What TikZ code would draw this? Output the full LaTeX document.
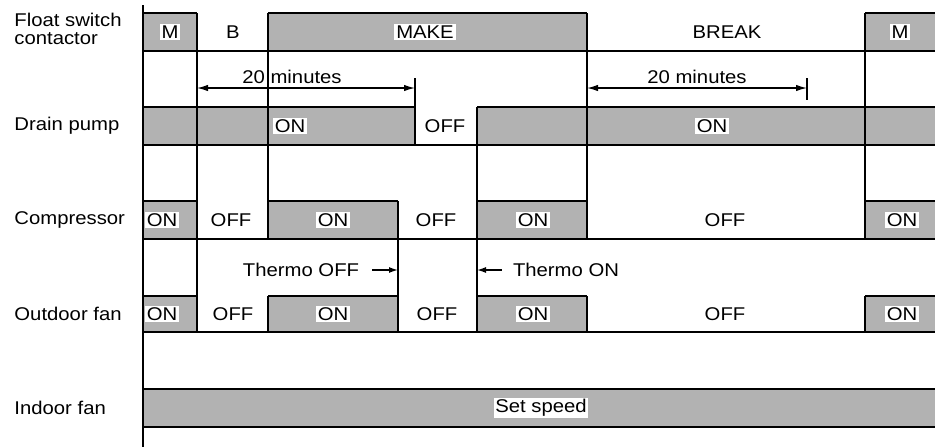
\documentclass[tikz,border=0pt]{standalone}
\usepackage{fontspec}
\setmainfont{Liberation Sans}[FakeStretch=1.1]
\usepackage{tikz}
\usetikzlibrary{arrows.meta}
\begin{document}
\begin{tikzpicture}[x=0.02cm, y=-0.02cm, line width=0.8pt,
  sg/.style={font=\fontsize{10.5}{10.5}\selectfont, inner sep=1pt},
  lb/.style={sg, fill=white}, rl/.style={sg, anchor=west, align=left},
  on/.style={fill=black!30},
  arr/.style={-{Latex[length=1.8mm, width=1.2mm]}},
  darr/.style={{Latex[length=2.2mm, width=1.3mm]}-{Latex[length=2.2mm, width=1.3mm]}}]
\useasboundingbox (0,0) rectangle (935,447);
% row names
\node[rl] (fsw) at (12,29) {Float switch\\contactor};
\node[rl] (dp) at (12,126) {Drain pump};
\node[rl] (cp) at (12,220) {Compressor};
\node[rl] (of) at (12,314) {Outdoor fan};
\node[rl] (inf) at (12,408) {Indoor fan};
% shaded ON / MAKE periods
\fill[on] (143,13) rectangle (197,51) (268,13) rectangle (587,51) (865,13) rectangle (935,51);
\fill[on] (143,107) rectangle (415,145) (477,107) rectangle (935,145);
\fill[on] (143,201) rectangle (197,239) (268,201) rectangle (398,239) (477,201) rectangle (587,239) (865,201) rectangle (935,239);
\fill[on] (143,296) rectangle (197,332) (268,296) rectangle (398,332) (477,296) rectangle (587,332) (865,296) rectangle (935,332);
\fill[on] (143,389) rectangle (935,427);
% levels
\draw (143,13) -- (197,13) (268,13) -- (587,13) (865,13) -- (935,13) (143,51) -- (935,51);
\draw (143,107) -- (415,107) (477,107) -- (935,107) (143,145) -- (935,145);
\draw (143,201) -- (197,201) (268,201) -- (398,201) (477,201) -- (587,201) (865,201) -- (935,201) (143,239) -- (935,239);
\draw (143,296) -- (197,296) (268,296) -- (398,296) (477,296) -- (587,296) (865,296) -- (935,296) (143,332) -- (935,332);
\draw (143,389) -- (935,389) (143,427) -- (935,427);
% edges
\draw (143,5) -- (143,447);
\draw (197,13) -- (197,332);
\draw (268,13) -- (268,239) (268,296) -- (268,332);
\draw (398,201) -- (398,332);
\draw (415,78) -- (415,145);
\draw (477,107) -- (477,332);
\draw (587,13) -- (587,239) (587,296) -- (587,332);
\draw (807,78) -- (807,100);
\draw (865,13) -- (865,239) (865,296) -- (865,332);
% states
\node[lb] (fm1) at (170,32) {M};
\node[sg] (fb) at (233,32) {B};
\node[lb] (fmk) at (425,32) {MAKE};
\node[sg] (fbk) at (727,32) {BREAK};
\node[lb] (fm2) at (900,32) {M};
\node[lb] (don1) at (290,126) {ON};
\node[sg] (doff) at (445,126) {OFF};
\node[lb] (don2) at (712,126) {ON};
\node[lb] (c1) at (162,220) {ON};
\node[sg] (c2) at (231,220) {OFF};
\node[lb] (c3) at (333,220) {ON};
\node[sg] (c4) at (436,220) {OFF};
\node[lb] (c5) at (533,220) {ON};
\node[sg] (c6) at (725,220) {OFF};
\node[lb] (c7) at (902,220) {ON};
\node[lb] (o1) at (162,314) {ON};
\node[sg] (o2) at (233,314) {OFF};
\node[lb] (o3) at (333,314) {ON};
\node[sg] (o4) at (437,314) {OFF};
\node[lb] (o5) at (533,314) {ON};
\node[sg] (o6) at (725,314) {OFF};
\node[lb] (o7) at (902,314) {ON};
\node[lb] (ss) at (541,408) {Set speed};
% timers and thermostat
\node[sg] (t20a) at (292,77) {20 minutes};
\node[sg] (t20b) at (697,77) {20 minutes};
\coordinate (a1) at (197,88); \coordinate (a2) at (415,88);
\coordinate (b1) at (587,88); \coordinate (b2) at (807,88);
\draw[darr] (a1) -- (a2); \draw[darr] (b1) -- (b2);
\node[sg] (toff) at (301,270) {Thermo OFF};
\node[sg] (ton) at (566,270) {Thermo ON};
\coordinate (tf) at (398,270); \coordinate (tn) at (477,270);
\draw[arr, shorten <=6pt] (toff) -- (tf);
\draw[arr, shorten <=5pt] (ton) -- (tn);
\end{tikzpicture}
\end{document}
